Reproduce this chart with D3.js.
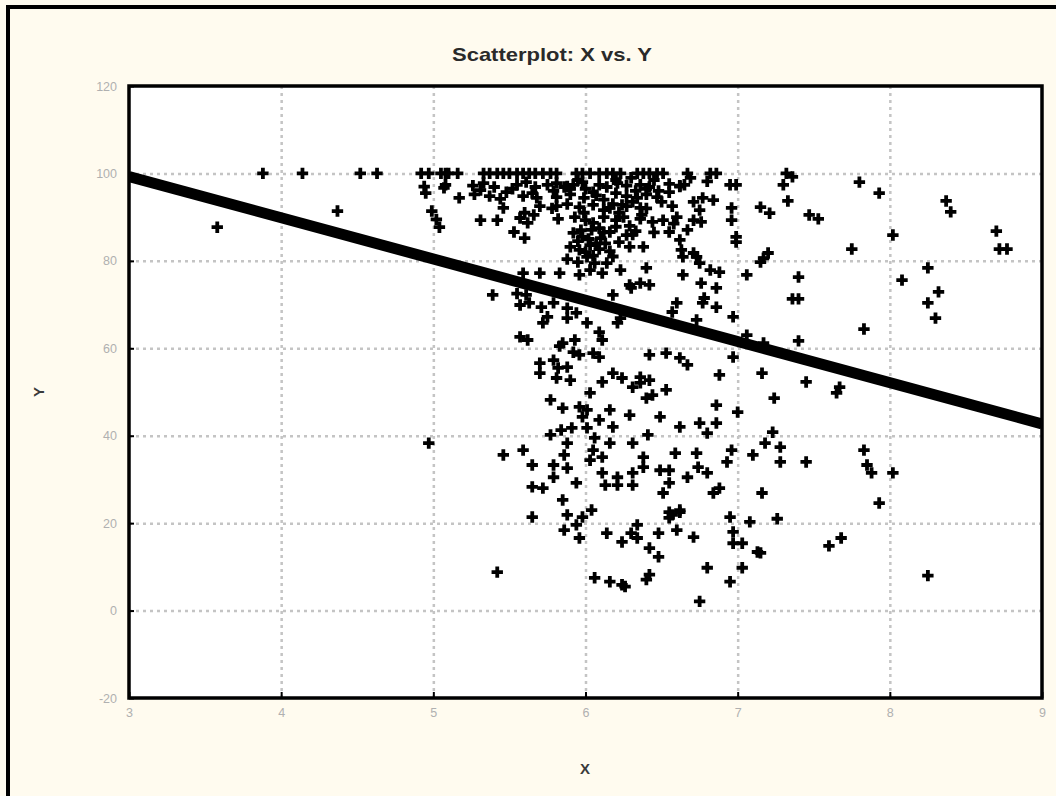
<!DOCTYPE html>
<html>
<head>
<meta charset="utf-8">
<script src="https://cdn.jsdelivr.net/npm/d3@7/dist/d3.min.js"></script>
<style>
  html, body { margin: 0; padding: 0; background: #fffbef; }
  svg { display: block; }
</style>
</head>
<body>
<svg id="chart" width="1056" height="796"></svg>
<script>
// ---- data ----
const title = "Scatterplot: X vs. Y";
const xLabel = "X";
const yLabel = "Y";
const xTicks = [3, 4, 5, 6, 7, 8, 9];
const yTicks = [-20, 0, 20, 40, 60, 80, 100, 120];
const xDomain = [3, 9];
const yDomain = [-20, 120];
// regression line (end points)
const lineX = [3, 9];
const lineY = [99.3, 42.7];
// observations: x values and y values
const pts = [
[3.88,100],[4.14,100],[3.58,87.7],[4.37,91.4],[4.52,100],[4.63,100],
[4.92,100],[4.97,100],[5.05,100],[5.10,100],[4.94,97],[4.95,95.5],[5.07,96.7],[4.99,91.4],[5.02,89.5],[5.04,87.7],[4.97,38.3],[5.42,8.8],
[5.08,100],[5.16,100],[5.33,100],[5.37,100],[5.42,100],[5.46,100],[5.50,100],[5.55,100],[5.59,100],[5.63,100],[5.67,100],[5.72,100],[5.77,100],[5.81,100],[5.94,100],[5.98,100],[6.03,100],[6.09,100],[6.14,100],[6.18,100],[6.23,100],[6.34,100],[6.38,100],[6.42,100],[6.47,100],[6.51,100],[6.67,100],[6.82,100],[6.86,100],[7.32,100],[7.36,99.2],
[5.08,97.4],[5.26,97.2],[5.33,97.8],[5.40,96.9],[5.55,97.4],[5.61,98],[5.67,96.9],[5.75,97.4],[5.81,97.8],[5.86,96.9],[5.92,97.4],[5.98,98],[6.09,97.4],[6.14,96.9],[6.21,97.8],[6.27,97.2],[6.36,97.4],[6.42,96.9],[6.55,97.6],[6.62,97.2],[6.65,97.4],[6.80,98.2],[6.95,97.4],[6.99,97.4],[7.80,98.0],[7.30,97.4],
[5.17,94.4],[5.27,95.2],[5.37,94.8],[5.44,94.2],[5.59,94.8],[5.68,94.4],[5.81,94.6],[5.90,95.2],[5.99,94.4],[6.07,95],[6.27,94.8],[6.34,94.4],[6.40,95.2],[6.47,94.6],[6.55,95.7],[6.71,93.5],[6.77,94.4],[6.84,93.9],[7.93,95.5],[7.33,93.7],
[5.46,92.1],[5.81,92.5],[5.88,93],[5.96,92.3],[6.05,92.8],[6.16,92.1],[6.24,92.8],[6.36,92.1],[6.96,92.1],[7.15,92.3],[7.21,90.9],[6.75,91.6],[8.37,93.7],[8.40,91.2],
[5.31,89.3],[5.42,89.3],[5.57,89.8],[5.62,88.7],[5.82,89.6],[5.93,90],[6.00,89.3],[6.05,88.7],[6.12,90],[6.20,89.3],[6.36,89.6],[6.44,88.9],[6.51,89.3],[6.71,89.3],[6.76,88.9],[6.96,89.3],[7.47,90.5],[7.53,89.6],
[5.53,86.6],[5.60,85.2],[5.92,86.4],[5.98,85.5],[6.04,87.1],[6.10,85.2],[6.16,86.6],[6.27,85.9],[6.33,86.8],[6.55,86.6],[6.67,87.1],[6.99,85.5],[6.99,84.3],[6.62,84.8],[8.02,85.9],
[5.90,83.2],[5.96,82.5],[6.03,83.6],[6.09,82.7],[6.16,82.2],[6.29,83.2],[6.38,83.2],[6.63,82.5],[6.71,81.8],[7.75,82.7],[8.72,82.7],[8.77,82.7],[8.70,86.8],
[5.88,80.4],[5.95,79.7],[6.01,80.9],[6.06,79.5],[6.64,80.9],[6.73,80.9],[6.75,79.5],[7.17,80.6],[7.20,81.8],[7.15,79.7],
[5.70,77.2],[5.83,77.2],[5.96,76.8],[6.03,77.9],[6.11,77.2],[6.23,77.9],[6.40,78.4],[6.64,76.8],[6.82,77.9],[6.88,77.4],[7.06,76.8],[7.40,76.3],[5.59,77.2],
[6.29,74.5],[6.36,74.9],[6.42,74.5],[6.76,74.9],[6.86,73.8],[6.30,73.8],
[5.39,72.2],[5.55,72.5],[5.61,72.2],[6.18,72.2],[6.78,71.5],[7.40,71.3],[7.36,71.3],
[5.57,69.9],[5.63,70.4],[5.71,69.4],[5.79,70.4],[5.88,69.2],[5.94,68.1],[6.57,68.3],[6.60,70.4],[6.77,70.4],[6.86,69.4],
[5.72,65.8],[5.75,67.2],[5.88,66.9],[6.01,65.8],[6.21,65.8],[6.23,66.9],[6.97,67.2],[6.73,66.5],[7.83,64.4],
[5.57,62.6],[5.62,61.9],[5.85,61.2],[5.93,61.9],[6.09,63.7],[6.11,61.9],[7.06,63.0],[7.17,61.2],[7.40,61.7],
[5.83,60.5],[5.92,59.1],[6.09,58.0],[5.96,58.5],[6.05,58.9],[5.70,56.6],[5.70,54.3],[5.79,57.3],[5.88,55.7],[5.81,53.2],[5.90,52.7],[6.11,52.3],[6.18,54.3],[6.24,53.2],[6.42,58.5],[6.53,58.9],[6.62,57.8],[6.67,56.2],[6.36,53.4],[6.36,52.1],[6.42,52.7],[6.31,51.1],[6.53,50.5],[6.88,53.9],[7.16,54.3],[6.97,58.0],[5.82,55.5],[7.45,52.3],[7.67,51.1],[7.65,49.8],[7.24,48.6],
[5.77,48.2],[5.85,46.3],[5.96,46.6],[6.01,45.9],[6.03,49.8],[5.98,44.3],[6.16,45.9],[6.09,43.6],[6.29,44.7],[6.40,48.6],[6.44,49.3],[6.18,42.0],[6.01,41.8],[6.49,44.3],[6.86,47.0],[7.00,45.4],[6.62,42.0],[6.75,42.9],[6.80,40.6],[6.86,42.9],[5.77,40.2],[5.84,41.3],[5.91,41.8],[5.88,38.3],[6.06,39.5],[6.05,36.7],[6.16,38.3],[6.31,38.3],[6.41,40.2],
[5.46,35.6],[5.59,36.7],[5.86,35.6],[5.65,33.3],[5.79,33.3],[5.79,30.5],[5.88,32.6],[6.03,34.4],[6.11,35.1],[5.94,29.2],[6.11,31.5],[6.21,30.5],[6.31,31.5],[6.13,28.7],[6.21,28.7],[6.31,28.7],[6.38,35.1],[6.38,32.8],[6.49,32.1],[6.55,32.1],[6.59,36.0],[6.73,36.0],[6.74,32.8],[6.80,31.5],[6.67,30.5],[6.55,29.2],[6.51,26.9],[6.93,34.0],[6.96,36.7],[7.10,35.6],[7.18,38.3],[6.84,26.9],[6.88,28.0],[7.16,26.9],[5.65,28.3],[5.72,28.0],[5.85,25.3],
[7.23,40.8],[7.28,37.4],[7.28,34.0],[7.45,34.0],[7.83,36.7],[7.85,33.3],[7.88,31.5],[8.02,31.5],[7.93,24.6],[7.26,21.0],[7.68,16.6],[7.60,14.8],[8.25,8.0],[7.15,13.2],
[8.25,78.4],[8.08,75.6],[8.32,72.9],[8.25,70.4],[8.30,66.9],
[5.65,21.4],[5.88,21.9],[5.98,21.4],[6.04,23.0],[6.55,22.5],[6.62,22.5],[6.95,21.4],[7.08,20.3],[6.34,19.6],
[5.86,18.4],[5.94,19.6],[5.96,16.6],[6.14,17.7],[6.24,15.7],[6.30,17.7],[6.34,16.6],[6.42,14.3],[6.48,12.3],[6.48,17.7],[6.55,21.2],[6.62,23.0],[6.57,21.9],[6.60,18.4],[6.71,16.8],[6.97,18.0],[6.97,15.4],[7.03,15.4],[7.13,13.4],[7.03,9.8],[6.80,9.8],[6.95,6.6],[6.06,7.5],[6.16,6.6],[6.24,5.9],[6.26,5.5],[6.40,7.1],[6.42,8.2],[6.75,2.1],
[5.31,96.2],[5.48,95.7],[5.52,96.5],[5.65,95.5],[5.79,96],[5.90,96.5],[6.05,95.7],[6.20,95.5],[6.27,92.5],[6.31,93.5],[6.22,91.0],[6.12,91.6],[5.99,91.0],[6.09,87.5],[6.20,87.8],[6.13,84.0],[6.22,84.3],[5.95,84.5],[6.29,88.0],[6.31,86.0],[6.05,81.2],[6.40,96.5],[6.45,98.5],[6.30,99],[6.57,92.5],[6.60,90.0],[6.62,97.0],[6.69,99],[6.20,98.5],[6.50,93.5],[6.37,90.5],[6.45,86.5],[6.58,88.5],[5.78,92.0],
[6.02,85],[6.07,84],[6.12,86.5],[6.18,81],[6.00,82],[6.14,79.5],[5.97,87],[6.25,90],[5.88,97],[5.95,98.5],[6.00,96.5],[6.12,94],[6.18,93],[6.33,96],[6.40,92],[6.48,96],[5.70,92.5],[5.66,90.5],[5.60,91]
];
const xs = pts.map(d => d[0]);
const ys = pts.map(d => d[1]);

// ---- drawing ----
const svg = d3.select("#chart");
const W = 1056, H = 796;
const m = { left: 129, right: 1042, top: 86, bottom: 698 };
const x = d3.scaleLinear().domain(xDomain).range([m.left, m.right]);
const y = d3.scaleLinear().domain(yDomain).range([m.bottom, m.top]);
const fmt = v => String(v); // plain hyphen-minus like the original

// outer frame (left & top edges)
svg.append("line").attr("x1", 8).attr("x2", 8).attr("y1", 5).attr("y2", H).attr("stroke", "#000").attr("stroke-width", 4);
svg.append("line").attr("x1", 6).attr("x2", W).attr("y1", 7).attr("y2", 7).attr("stroke", "#000").attr("stroke-width", 4);

// plot background
svg.append("rect").attr("x", m.left).attr("y", m.top)
  .attr("width", m.right - m.left).attr("height", m.bottom - m.top).attr("fill", "#fff");

// grid
const gridColor = "#c4c4c4";
const gx = svg.append("g").attr("transform", `translate(0,${m.bottom})`)
  .call(d3.axisBottom(x).tickValues(xTicks.filter(v => v > xDomain[0] && v < xDomain[1]))
  .tickSize(-(m.bottom - m.top)).tickFormat(""));
gx.select(".domain").remove();
gx.selectAll("line").attr("stroke", gridColor).attr("stroke-width", 2.5).attr("stroke-dasharray", "3,4");

const gy = svg.append("g").attr("transform", `translate(${m.left},0)`)
  .call(d3.axisLeft(y).tickValues(yTicks.filter(v => v > yDomain[0] && v < yDomain[1]))
  .tickSize(-(m.right - m.left)).tickFormat(""));
gy.select(".domain").remove();
gy.selectAll("line").attr("stroke", gridColor).attr("stroke-width", 2.5).attr("stroke-dasharray", "3,4");

// small inner ticks
const tl = svg.append("g").attr("transform", `translate(${m.left},0)`)
  .call(d3.axisLeft(y).tickValues(yTicks).tickSize(-5).tickFormat(""));
tl.select(".domain").remove();
tl.selectAll("line").attr("stroke", "#000").attr("stroke-width", 2);
const tb = svg.append("g").attr("transform", `translate(0,${m.bottom})`)
  .call(d3.axisBottom(x).tickValues(xTicks).tickSize(-6).tickFormat(""));
tb.select(".domain").remove();
tb.selectAll("line").attr("stroke", "#000").attr("stroke-width", 2);

// clip for marks
svg.append("clipPath").attr("id", "clip").append("rect")
  .attr("x", m.left).attr("y", m.top).attr("width", m.right - m.left).attr("height", m.bottom - m.top);

const marks = svg.append("g").attr("clip-path", "url(#clip)");
// regression line
marks.append("line")
  .attr("x1", x(lineX[0])).attr("y1", y(lineY[0]))
  .attr("x2", x(lineX[1])).attr("y2", y(lineY[1]))
  .attr("stroke", "#000").attr("stroke-width", 11);

// points
const sym = d3.symbol().type(d3.symbolCross).size(72);
marks.selectAll("path.pt").data(xs.map((v, i) => [v, ys[i]])).enter().append("path")
  .attr("class", "pt")
  .attr("transform", d => `translate(${x(d[0])},${y(d[1])})`)
  .attr("d", sym).attr("fill", "#000");

// plot border
svg.append("rect").attr("x", m.left).attr("y", m.top)
  .attr("width", m.right - m.left).attr("height", m.bottom - m.top)
  .attr("fill", "none").attr("stroke", "#000").attr("stroke-width", 3.5);

// tick labels
const font = "'Liberation Sans', Arial, sans-serif";
const ay = svg.append("g").attr("transform", `translate(${m.left},0)`)
  .call(d3.axisLeft(y).tickValues(yTicks).tickSize(0).tickPadding(12).tickFormat(fmt));
ay.select(".domain").remove();
ay.selectAll("text").attr("fill", "#b0b0b0").style("font", `12.5px ${font}`);

const ax = svg.append("g").attr("transform", `translate(0,${m.bottom})`)
  .call(d3.axisBottom(x).tickValues(xTicks).tickSize(0).tickPadding(10).tickFormat(fmt));
ax.select(".domain").remove();
ax.selectAll("text").attr("fill", "#b0b0b0").style("font", `12.5px ${font}`);

// title and axis labels
svg.append("text").attr("x", 552).attr("y", 61).attr("text-anchor", "middle")
  .attr("fill", "#2a2a2a").style("font", `bold 19px ${font}`)
  .attr("textLength", 200).attr("lengthAdjust", "spacingAndGlyphs").text(title);
svg.append("text").attr("x", 585).attr("y", 774).attr("text-anchor", "middle")
  .attr("fill", "#3a3a3a").style("font", `bold 15px ${font}`).text(xLabel);
svg.append("text").attr("transform", "translate(44,392) rotate(-90)").attr("text-anchor", "middle")
  .attr("fill", "#3a3a3a").style("font", `bold 15px ${font}`).text(yLabel);
</script>
</body>
</html>
